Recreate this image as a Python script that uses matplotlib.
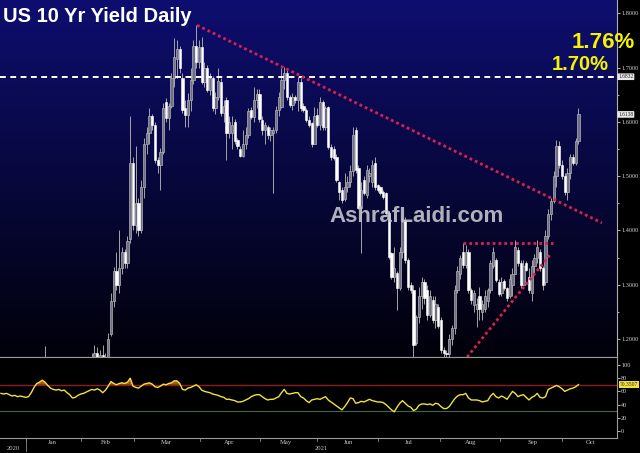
import numpy as np
import matplotlib.pyplot as plt
from matplotlib.transforms import blended_transform_factory

# daily candles (yield, %), index 0 = first bar drawn
opens = [1.15, 1.13, 1.11, 1.12, 1.13, 1.12, 1.10, 1.11, 1.12, 1.13,
         1.14, 1.13, 1.12, 1.13, 1.14, 1.15, 1.14, 1.15, 1.16, 1.175,
         1.165, 1.17, 1.16, 1.165, 1.21, 1.27, 1.325, 1.30, 1.33, 1.36,
         1.34, 1.385, 1.525, 1.41, 1.45, 1.40, 1.48, 1.56, 1.58, 1.61,
         1.595, 1.53, 1.52, 1.545, 1.636, 1.607, 1.63, 1.68, 1.715, 1.735,
         1.68, 1.625, 1.613, 1.64, 1.677, 1.74, 1.71, 1.738, 1.673, 1.70,
         1.659, 1.68, 1.625, 1.645, 1.673, 1.616, 1.64, 1.58, 1.58, 1.60,
         1.567, 1.55, 1.537, 1.56, 1.575, 1.622, 1.609, 1.64, 1.652, 1.604,
         1.585, 1.59, 1.575, 1.58, 1.585, 1.622, 1.628, 1.677, 1.69, 1.646,
         1.631, 1.646, 1.64, 1.673, 1.63, 1.622, 1.604, 1.598, 1.56, 1.613,
         1.594, 1.637, 1.59, 1.627, 1.554, 1.55, 1.535, 1.49, 1.475, 1.458,
         1.48, 1.49, 1.51, 1.585, 1.515, 1.441, 1.493, 1.465, 1.50, 1.49,
         1.524, 1.483, 1.48, 1.471, 1.469, 1.432, 1.358, 1.314, 1.322, 1.294,
         1.36, 1.419, 1.346, 1.30, 1.29, 1.193, 1.24, 1.28, 1.305, 1.29,
         1.245, 1.272, 1.235, 1.26, 1.235, 1.18, 1.175, 1.172, 1.20, 1.22,
         1.29, 1.32, 1.36, 1.337, 1.36, 1.29, 1.262, 1.255, 1.28, 1.25,
         1.255, 1.27, 1.29, 1.335, 1.346, 1.305, 1.285, 1.307, 1.294, 1.28,
         1.30, 1.32, 1.364, 1.34, 1.30, 1.34, 1.315, 1.285, 1.335, 1.35,
         1.36, 1.33, 1.305, 1.39, 1.43, 1.455, 1.50, 1.555, 1.52, 1.50,
         1.47, 1.505, 1.535, 1.525, 1.565]
highs = [1.188, 1.15, 1.13, 1.14, 1.15, 1.13, 1.12, 1.13, 1.14, 1.15,
         1.16, 1.15, 1.14, 1.15, 1.16, 1.165, 1.16, 1.175, 1.19, 1.185,
         1.18, 1.19, 1.175, 1.211, 1.285, 1.333, 1.36, 1.40, 1.37, 1.365,
         1.39, 1.61, 1.535, 1.555, 1.46, 1.493, 1.57, 1.59, 1.625, 1.615,
         1.60, 1.535, 1.552, 1.635, 1.644, 1.635, 1.69, 1.755, 1.75, 1.74,
         1.69, 1.64, 1.654, 1.70, 1.751, 1.778, 1.751, 1.757, 1.71, 1.705,
         1.69, 1.685, 1.655, 1.70, 1.68, 1.64, 1.645, 1.61, 1.61, 1.605,
         1.57, 1.555, 1.585, 1.59, 1.625, 1.628, 1.664, 1.66, 1.66, 1.61,
         1.60, 1.595, 1.59, 1.59, 1.63, 1.655, 1.699, 1.701, 1.695, 1.65,
         1.653, 1.65, 1.683, 1.68, 1.635, 1.625, 1.61, 1.60, 1.627, 1.625,
         1.645, 1.64, 1.63, 1.63, 1.56, 1.555, 1.54, 1.492, 1.48, 1.505,
         1.50, 1.52, 1.591, 1.59, 1.52, 1.49, 1.50, 1.52, 1.515, 1.53,
         1.535, 1.486, 1.482, 1.475, 1.47, 1.435, 1.36, 1.37, 1.325, 1.37,
         1.423, 1.425, 1.35, 1.305, 1.30, 1.245, 1.296, 1.315, 1.31, 1.30,
         1.29, 1.28, 1.28, 1.265, 1.24, 1.185, 1.18, 1.21, 1.226, 1.30,
         1.335, 1.355, 1.377, 1.373, 1.365, 1.295, 1.29, 1.275, 1.296, 1.272,
         1.29, 1.295, 1.346, 1.37, 1.35, 1.31, 1.315, 1.31, 1.296, 1.32,
         1.33, 1.383, 1.37, 1.345, 1.346, 1.343, 1.33, 1.346, 1.356, 1.383,
         1.365, 1.335, 1.401, 1.44, 1.46, 1.51, 1.567, 1.565, 1.53, 1.505,
         1.515, 1.54, 1.54, 1.57, 1.625]
lows = [1.12, 1.10, 1.09, 1.10, 1.11, 1.09, 1.08, 1.09, 1.10, 1.11,
        1.12, 1.11, 1.10, 1.11, 1.12, 1.13, 1.12, 1.13, 1.15, 1.15,
        1.15, 1.155, 1.14, 1.15, 1.205, 1.26, 1.29, 1.285, 1.32, 1.33,
        1.33, 1.377, 1.40, 1.395, 1.39, 1.395, 1.46, 1.54, 1.56, 1.585,
        1.525, 1.506, 1.475, 1.54, 1.60, 1.585, 1.625, 1.665, 1.68, 1.69,
        1.617, 1.59, 1.59, 1.62, 1.67, 1.70, 1.70, 1.67, 1.665, 1.655,
        1.65, 1.62, 1.615, 1.64, 1.61, 1.60, 1.53, 1.57, 1.55, 1.56,
        1.55, 1.535, 1.535, 1.55, 1.57, 1.605, 1.60, 1.625, 1.60, 1.575,
        1.56, 1.568, 1.565, 1.469, 1.58, 1.61, 1.625, 1.66, 1.64, 1.628,
        1.622, 1.635, 1.62, 1.62, 1.618, 1.60, 1.59, 1.553, 1.56, 1.59,
        1.585, 1.585, 1.585, 1.55, 1.53, 1.53, 1.49, 1.457, 1.45, 1.455,
        1.47, 1.48, 1.50, 1.505, 1.44, 1.358, 1.465, 1.46, 1.49, 1.48,
        1.475, 1.47, 1.465, 1.458, 1.428, 1.348, 1.31, 1.305, 1.254, 1.29,
        1.35, 1.34, 1.29, 1.285, 1.167, 1.19, 1.23, 1.255, 1.265, 1.235,
        1.24, 1.23, 1.22, 1.22, 1.175, 1.167, 1.167, 1.167, 1.19, 1.21,
        1.285, 1.31, 1.33, 1.33, 1.285, 1.265, 1.25, 1.222, 1.235, 1.235,
        1.25, 1.26, 1.285, 1.33, 1.305, 1.28, 1.28, 1.29, 1.27, 1.275,
        1.28, 1.32, 1.335, 1.295, 1.30, 1.325, 1.285, 1.27, 1.32, 1.34,
        1.325, 1.29, 1.30, 1.385, 1.42, 1.45, 1.48, 1.515, 1.495, 1.465,
        1.456, 1.495, 1.52, 1.52, 1.56]
closes = [1.13, 1.11, 1.12, 1.13, 1.12, 1.10, 1.11, 1.12, 1.13, 1.14,
          1.13, 1.12, 1.13, 1.14, 1.15, 1.14, 1.15, 1.16, 1.175, 1.165,
          1.17, 1.16, 1.165, 1.20, 1.27, 1.325, 1.30, 1.33, 1.36, 1.34,
          1.38, 1.525, 1.41, 1.45, 1.40, 1.48, 1.56, 1.58, 1.61, 1.595,
          1.53, 1.52, 1.545, 1.625, 1.607, 1.63, 1.68, 1.72, 1.735, 1.70,
          1.622, 1.613, 1.64, 1.677, 1.74, 1.71, 1.738, 1.673, 1.70, 1.659,
          1.68, 1.625, 1.645, 1.675, 1.616, 1.63, 1.58, 1.60, 1.595, 1.565,
          1.555, 1.537, 1.56, 1.575, 1.62, 1.609, 1.64, 1.652, 1.605, 1.585,
          1.595, 1.575, 1.585, 1.585, 1.622, 1.645, 1.677, 1.69, 1.646, 1.631,
          1.645, 1.640, 1.673, 1.626, 1.622, 1.604, 1.594, 1.56, 1.61, 1.594,
          1.637, 1.59, 1.625, 1.554, 1.535, 1.533, 1.493, 1.47, 1.456, 1.48,
          1.49, 1.51, 1.575, 1.511, 1.441, 1.475, 1.469, 1.511, 1.505, 1.52,
          1.48, 1.475, 1.469, 1.461, 1.432, 1.351, 1.314, 1.33, 1.294, 1.36,
          1.415, 1.346, 1.296, 1.29, 1.19, 1.241, 1.28, 1.305, 1.275, 1.245,
          1.28, 1.235, 1.265, 1.225, 1.18, 1.175, 1.172, 1.20, 1.22, 1.29,
          1.325, 1.35, 1.337, 1.36, 1.29, 1.272, 1.285, 1.265, 1.255, 1.265,
          1.28, 1.29, 1.34, 1.36, 1.309, 1.283, 1.305, 1.294, 1.276, 1.31,
          1.32, 1.37, 1.34, 1.30, 1.335, 1.328, 1.29, 1.335, 1.35, 1.37,
          1.33, 1.30, 1.39, 1.43, 1.455, 1.50, 1.555, 1.52, 1.50, 1.47,
          1.505, 1.535, 1.525, 1.565, 1.6138]

# 14-day RSI, starts 16 bars before the first candle
rsi = [57, 56, 57, 55, 53, 54, 52, 53, 52, 51, 52, 58, 66, 72, 74, 77,
       74, 69, 65, 63, 62, 63, 61, 62, 58, 55,
       50, 51, 54, 56, 57, 59, 61, 63, 62, 64,
       62, 58, 62, 68, 75, 72, 70, 72, 73, 72,
       74, 80, 68, 66, 65, 68, 71, 72, 73, 71,
       67, 66, 68, 71, 70, 72, 73, 76, 76, 72,
       63, 62, 65, 66, 68, 70, 67, 62, 60, 59,
       58, 56, 55, 54, 52, 51, 48, 48, 47, 46,
       44, 44, 45, 47, 49, 52, 54, 55, 55, 52,
       49, 47, 48, 48, 50, 52, 58, 63, 57, 56,
       57, 58, 58, 52, 50, 46, 43, 47, 48, 49,
       48, 50, 52, 47, 44, 41, 38, 35, 32, 37,
       43, 50, 49, 42, 43, 45, 44, 46, 48, 46,
       45, 44, 44, 43, 40, 36, 32, 29, 36, 42,
       46, 42, 38, 36, 31, 33, 39, 41, 41, 40,
       41, 39, 42, 41, 37, 34, 34, 37, 43, 49,
       53, 55, 55, 57, 50, 47, 47, 47, 46, 44,
       45, 46, 53, 57, 52, 50, 53, 51, 48, 54,
       60, 57, 52, 54, 55, 51, 47, 51, 53, 57,
       51, 50, 52, 63, 65, 67, 69, 67, 64, 60,
       62, 64, 65, 67, 70.35]
rsi_offset = -16

months = ['Jan', 'Feb', 'Mar', 'Apr', 'May', 'Jun', 'Jul', 'Aug', 'Sep', 'Oct']
month_pos = [2.5, 22.2, 44, 66.9, 87.6, 110.2, 132.4, 154.9, 177.1, 198.5]
month_edges = [-6.9, 13.1, 32.4, 56.4, 78.2, 98.9, 121.1, 143.6, 165.5, 188.0]
years = ['2020', '2021']
year_pos = [-11.6, 100.4]

yield_ticks = [1.2, 1.3, 1.4, 1.5, 1.6, 1.7, 1.8]
rsi_ticks = [0, 20, 40, 60, 80, 100]

level_1683 = 1.6832
last_yield = 1.6138
last_rsi = 70.3507

# trend lines drawn on the chart (bar index, yield)
down_x, down_y = [55.3, 202.5], [1.778, 1.414]
top_x, top_y = [152, 184.7], [1.377, 1.377]
up_x, up_y = [153.5, 183.6], [1.167, 1.355]

W, H = 640, 453
fig = plt.figure(figsize=(6.4, 4.53), dpi=100, facecolor='black')
ax = fig.add_axes([0, 1 - 357 / H, 617 / W, 357 / H])
ax2 = fig.add_axes([0, 1 - 438 / H, 617 / W, 81 / H], sharex=ax)

xlim = (-16.36, 208.0)
ax.set_xlim(*xlim)
ax.set_ylim(1.167, 1.8245)

# navy to black background
top = np.array([14, 14, 112]) / 255
bot = np.array([1, 1, 10]) / 255
t = np.linspace(0, 1, 256)[:, None, None]
grad = top * (1 - t) + bot * t
ax.imshow(grad, extent=[xlim[0], xlim[1], 1.167, 1.8245], aspect='auto',
          origin='upper', zorder=0)

x = np.arange(len(closes))
o = np.array(opens)
c = np.array(closes)
up = c >= o
ax.vlines(x, lows, highs, color='#a4a4a4', lw=0.7, zorder=2)
ax.bar(x[up], (c - o)[up], bottom=o[up], width=0.8, color='#6e6e86',
       edgecolor='#b4b4b4', lw=0.5, zorder=3)
ax.bar(x[~up], (c - o)[~up], bottom=o[~up], width=0.8, color='white',
       edgecolor='white', lw=0.4, zorder=3)

ax.axhline(level_1683, color='white', lw=1.4, ls=(0, (3, 2.3)), zorder=4)
red = '#dc1f50'
for tx, ty in [(down_x, down_y), (top_x, top_y), (up_x, up_y)]:
    ax.plot(tx, ty, color=red, lw=2.0, ls=(0, (1, 1.1)), zorder=5)

ax.yaxis.tick_right()
ax.set_yticks(yield_ticks)
ax.set_yticklabels([f'{v:.4f}' for v in yield_ticks])
ax.set_yticks(np.arange(1.25, 1.8, 0.1), minor=True)
ax.tick_params(axis='y', which='both', colors='#d0d0d0', labelsize=4.5,
               length=2, width=0.6, pad=1)
ax.tick_params(axis='y', which='minor', length=1.2)
ax.tick_params(axis='x', bottom=False, labelbottom=False)
for lab in ax.get_yticklabels():
    lab.set_fontfamily('Liberation Serif')
for s in ['top', 'left']:
    ax.spines[s].set_visible(False)
ax.spines['right'].set_color('#b0b0b0')
ax.spines['bottom'].set_color('#8a8a8a')

for val in [level_1683, last_yield]:
    ax.text(1.002, val, f'{val:.4f}', transform=blended_transform_factory(ax.transAxes, ax.transData),
            fontsize=4, color='#202020', family='Liberation Serif', ha='left', va='center',
            bbox=dict(boxstyle='round,pad=0.15', fc='#e8e8e8', ec='none'), clip_on=False)

# RSI panel
ax2.set_facecolor('black')
ax2.set_ylim(-10.6, 112.1)
rx = np.arange(len(rsi)) + rsi_offset
rv = np.array(rsi, dtype=float)
ax2.axhline(70, color='#8e1c1c', lw=1.0)
ax2.axhline(30, color='#3d6b45', lw=0.8)
ax2.fill_between(rx, rv, 70, where=rv > 70, interpolate=True, color='#a0591f', lw=0)
ax2.plot(rx, rv, color='#f2e23a', lw=1.0)
ax2.yaxis.tick_right()
ax2.set_yticks(rsi_ticks)
ax2.tick_params(axis='y', colors='#d0d0d0', labelsize=4.5, length=2, width=0.6, pad=1)
for lab in ax2.get_yticklabels():
    lab.set_fontfamily('Liberation Serif')
ax2.tick_params(axis='x', bottom=False, labelbottom=False)
ax2.spines['left'].set_visible(False)
for s in ['top', 'bottom', 'right']:
    ax2.spines[s].set_color('#9a9a9a')
ax2.text(1.004, last_rsi, f'{last_rsi:.4f}', transform=blended_transform_factory(ax2.transAxes, ax2.transData),
         fontsize=4, color='#202020', family='Liberation Serif', ha='left', va='center',
         bbox=dict(boxstyle='square,pad=0.15', fc='#f2e23a', ec='none'), clip_on=False)

bt = blended_transform_factory(ax2.transData, ax2.transAxes)
for m, p in zip(months, month_pos):
    ax2.text(p, -0.05, m, transform=bt, fontsize=4.8, color='#c8c8c8',
             ha='center', va='center', family='Liberation Serif')
for e in month_edges:
    ax2.plot([e, e], [0, -0.04], transform=bt, color='#8a8a8a', lw=0.6, clip_on=False)
ax2.plot([month_edges[0], month_edges[0]], [0, -0.16], transform=bt, color='#8a8a8a',
         lw=0.6, clip_on=False)
for yl, p in zip(years, year_pos):
    ax2.text(p, -0.135, yl, transform=bt, fontsize=4.8, color='#c8c8c8',
             ha='center', va='center', family='Liberation Serif')

fig.text(3 / W, 1 - 16 / H, 'US 10 Yr Yield Daily', fontsize=14.5, fontweight='bold',
         color='white', family='Liberation Sans', ha='left', va='center')
fig.text(572 / W, 1 - 42 / H, '1.76%', fontsize=16, fontweight='bold',
         color='#f6f200', family='Liberation Sans', ha='left', va='center')
fig.text(552 / W, 1 - 64.5 / H, '1.70%', fontsize=14.5, fontweight='bold',
         color='#f6f200', family='Liberation Sans', ha='left', va='center')
fig.text(417 / W, 1 - 217 / H, 'AshrafLaidi.com', fontsize=16, fontweight='bold',
         color='#c4c4cc', family='Liberation Sans', ha='center', va='center', alpha=0.9)

fig.savefig('out.png', dpi=100, facecolor='black')
